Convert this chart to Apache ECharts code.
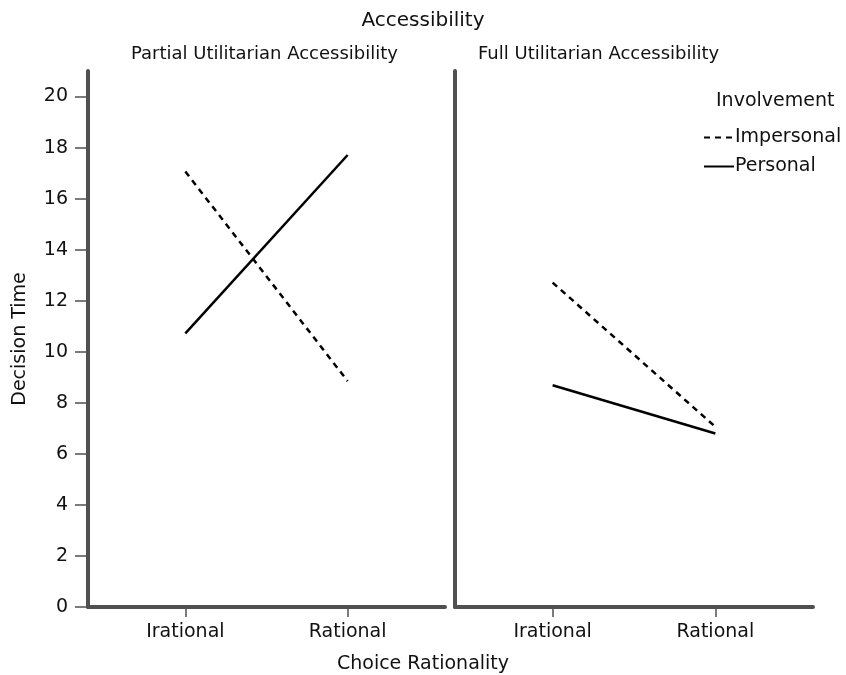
<!DOCTYPE html>
<html>

<head>
    <meta charset="utf-8">
    <script src="https://cdn.jsdelivr.net/npm/echarts@6/dist/echarts.min.js"></script>
    <style>
        html, body { margin: 0; padding: 0; background: #fff; }
        #main { width: 846px; height: 675px; }
    </style>
</head>

<body>
    <div id="main"></div>
    <script>
        // categories and values
        var choice = ['Irational', 'Rational'];
        var panels = ['Partial Utilitarian Accessibility', 'Full Utilitarian Accessibility'];
        var yTicks = [0, 2, 4, 6, 8, 10, 12, 14, 16, 18, 20];
        var impersonalPartial = [17.06, 8.85];
        var personalPartial = [10.72, 17.71];
        var impersonalFull = [12.71, 7.06];
        var personalFull = [8.69, 6.80];

        var font = 'DejaVu Sans';
        var axisColor = '#505050';

        function pts(vals) {
            return vals.map(function (v, i) { return [i, v]; });
        }

        function xAxis(idx) {
            return {
                type: 'value',
                gridIndex: idx,
                min: -0.6,
                max: 1.6,
                splitLine: { show: false },
                axisLine: { onZero: false, lineStyle: { color: axisColor, width: 4 } },
                axisTick: { customValues: [0, 1], length: 10, lineStyle: { color: axisColor, width: 1.5 } },
                axisLabel: {
                    customValues: [0, 1],
                    formatter: function (v) { return choice[Math.round(v)]; },
                    fontFamily: font, fontSize: 19, color: '#111', margin: 16
                }
            };
        }

        function yAxis(idx) {
            var ax = {
                type: 'value',
                gridIndex: idx,
                min: 0,
                max: 21,
                splitLine: { show: false },
                axisLine: { show: true, onZero: false, lineStyle: { color: axisColor, width: 4 } },
                axisTick: { show: idx === 0, customValues: yTicks, length: 13, lineStyle: { color: axisColor, width: 1.5 } },
                axisLabel: {
                    show: idx === 0, customValues: yTicks,
                    fontFamily: font, fontSize: 19, color: '#111', margin: 20
                }
            };
            if (idx === 0) {
                ax.name = 'Decision Time';
                ax.nameLocation = 'middle';
                ax.nameGap = 58;
                ax.nameTextStyle = { fontFamily: font, fontSize: 19, color: '#111' };
            }
            return ax;
        }

        function line(name, vals, idx, dashed) {
            return {
                name: name,
                type: 'line',
                xAxisIndex: idx,
                yAxisIndex: idx,
                data: pts(vals),
                symbol: 'none',
                color: '#000',
                animation: false,
                lineStyle: { color: '#000', width: 2.5, type: dashed ? [6, 5] : 'solid' }
            };
        }

        var myChart = echarts.init(document.getElementById('main'));

        var option = {
            backgroundColor: '#fff',
            animation: false,
            title: [
                { text: 'Accessibility', left: 'center', top: 6, textStyle: { fontFamily: font, fontSize: 20, fontWeight: 'normal', color: '#111' } },
                { text: panels[0], left: 126, top: 40, textStyle: { fontFamily: font, fontSize: 18, fontWeight: 'normal', color: '#111' } },
                { text: panels[1], left: 473, top: 40, textStyle: { fontFamily: font, fontSize: 18, fontWeight: 'normal', color: '#111' } },
                { text: 'Involvement', left: 711, top: 87, textStyle: { fontFamily: font, fontSize: 19, fontWeight: 'normal', color: '#111' } },
                { text: 'Choice Rationality', left: 'center', top: 650, textStyle: { fontFamily: font, fontSize: 19, fontWeight: 'normal', color: '#111' } }
            ],
            legend: {
                orient: 'vertical',
                left: 698,
                top: 123,
                itemWidth: 30,
                itemHeight: 14,
                itemGap: 10,
                itemStyle: { opacity: 0 },
                data: ['Impersonal', 'Personal'],
                textStyle: { fontFamily: font, fontSize: 19, color: '#111', padding: [0, 0, 0, -4] }
            },
            grid: [
                { left: 88, top: 71, width: 357, height: 536 },
                { left: 455, top: 71, width: 358, height: 536 }
            ],
            xAxis: [xAxis(0), xAxis(1)],
            yAxis: [yAxis(0), yAxis(1)],
            series: [
                line('Impersonal', impersonalPartial, 0, true),
                line('Personal', personalPartial, 0, false),
                line('Impersonal', impersonalFull, 1, true),
                line('Personal', personalFull, 1, false)
            ]
        };
        myChart.setOption(option);
    </script>
</body>

</html>
